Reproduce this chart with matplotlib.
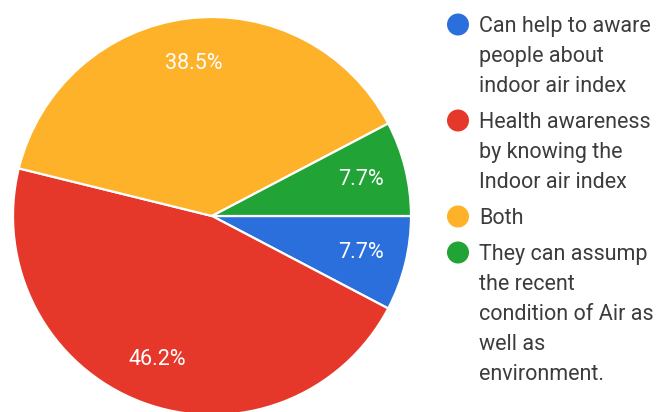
import matplotlib
matplotlib.use("Agg")
import matplotlib.pyplot as plt
from matplotlib.patches import Circle

# Survey responses
labels = [
    "Can help to aware\npeople about\nindoor air index",
    "Health awareness\nby knowing the\nIndoor air index",
    "Both",
    "They can assump\nthe recent\ncondition of Air as\nwell as\nenvironment.",
]
shares = [7.7, 46.2, 38.5, 7.7]
colors = ["#2b6fdc", "#e5382a", "#fdb22a", "#21a336"]

W, H = 662, 412
fig = plt.figure(figsize=(W / 100, H / 100), dpi=100)
fig.patch.set_facecolor("white")

# Pie area placed in pixel terms: centre (212, 216), radius 199
cx, cy, r = 212, 216, 199
ax = fig.add_axes([(cx - r) / W, (H - cy - r) / H, 2 * r / W, 2 * r / H])
wedges, texts, autotexts = ax.pie(
    shares,
    colors=colors,
    startangle=0,
    counterclock=False,
    radius=1.0,
    autopct=lambda p: f"{p:.1f}%",
    pctdistance=0.77,
    wedgeprops=dict(edgecolor="white", linewidth=1.6),
    textprops=dict(color="white", fontsize=15.5, family="Roboto"),
)
ax.set_xlim(-1, 1)
ax.set_ylim(-1, 1)
ax.set_aspect("equal")
ax.axis("off")

# Legend drawn in pixel coordinates, one text line at a time
lax = fig.add_axes([0, 0, 1, 1])
lax.set_xlim(0, W)
lax.set_ylim(H, 0)
lax.axis("off")

fs = 15.5
line_h = 30
entry_gap = 6
y = 24.5
for lab, col in zip(labels, colors):
    lax.add_patch(Circle((458, y), 11, color=col, ec="none"))
    for i, line in enumerate(lab.split("\n")):
        lax.text(479, y + i * line_h + 7.6, line, fontsize=fs, family="Roboto",
                 color="#3c3c3c", va="baseline", ha="left")
    y += (lab.count("\n") + 1) * line_h + entry_gap

fig.savefig("out.png", dpi=100, facecolor="white")
